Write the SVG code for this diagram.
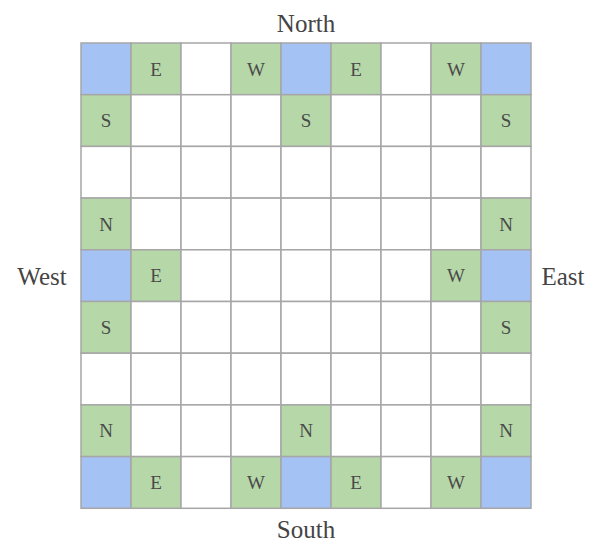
<svg xmlns="http://www.w3.org/2000/svg" width="606" height="556" viewBox="0 0 606 556">
<style>
.c{stroke:#a6a6a6;stroke-width:1.5;fill:#fff}
.b{fill:#a4c2f4}
.g{fill:#b6d7a8}
.t{font-family:"Liberation Serif",serif;font-size:19px;fill:#4a4a4a;text-anchor:middle;dominant-baseline:central}
.L{font-family:"Liberation Serif",serif;font-size:25px;fill:#444;text-anchor:middle;dominant-baseline:central}
</style>
<rect width="606" height="556" fill="#fff"/>
<g id="grid">
<g id="r0">
<rect class="c b" x="81" y="43" width="50" height="51.7"/>
<rect class="c g" x="131" y="43" width="50" height="51.7"/><text class="t" x="156" y="69">E</text>
<rect class="c" x="181" y="43" width="50" height="51.7"/>
<rect class="c g" x="231" y="43" width="50" height="51.7"/><text class="t" x="256" y="69">W</text>
<rect class="c b" x="281" y="43" width="50" height="51.7"/>
<rect class="c g" x="331" y="43" width="50" height="51.7"/><text class="t" x="356" y="69">E</text>
<rect class="c" x="381" y="43" width="50" height="51.7"/>
<rect class="c g" x="431" y="43" width="50" height="51.7"/><text class="t" x="456" y="69">W</text>
<rect class="c b" x="481" y="43" width="50" height="51.7"/>
</g>
<g id="r1">
<rect class="c g" x="81" y="94.7" width="50" height="51.7"/><text class="t" x="106" y="120.5">S</text>
<rect class="c" x="131" y="94.7" width="50" height="51.7"/>
<rect class="c" x="181" y="94.7" width="50" height="51.7"/>
<rect class="c" x="231" y="94.7" width="50" height="51.7"/>
<rect class="c g" x="281" y="94.7" width="50" height="51.7"/><text class="t" x="306" y="120.5">S</text>
<rect class="c" x="331" y="94.7" width="50" height="51.7"/>
<rect class="c" x="381" y="94.7" width="50" height="51.7"/>
<rect class="c" x="431" y="94.7" width="50" height="51.7"/>
<rect class="c g" x="481" y="94.7" width="50" height="51.7"/><text class="t" x="506" y="120.5">S</text>
</g>
<g id="r2">
<rect class="c" x="81" y="146.4" width="50" height="51.7"/>
<rect class="c" x="131" y="146.4" width="50" height="51.7"/>
<rect class="c" x="181" y="146.4" width="50" height="51.7"/>
<rect class="c" x="231" y="146.4" width="50" height="51.7"/>
<rect class="c" x="281" y="146.4" width="50" height="51.7"/>
<rect class="c" x="331" y="146.4" width="50" height="51.7"/>
<rect class="c" x="381" y="146.4" width="50" height="51.7"/>
<rect class="c" x="431" y="146.4" width="50" height="51.7"/>
<rect class="c" x="481" y="146.4" width="50" height="51.7"/>
</g>
<g id="r3">
<rect class="c g" x="81" y="198.1" width="50" height="51.7"/><text class="t" x="106" y="224">N</text>
<rect class="c" x="131" y="198.1" width="50" height="51.7"/>
<rect class="c" x="181" y="198.1" width="50" height="51.7"/>
<rect class="c" x="231" y="198.1" width="50" height="51.7"/>
<rect class="c" x="281" y="198.1" width="50" height="51.7"/>
<rect class="c" x="331" y="198.1" width="50" height="51.7"/>
<rect class="c" x="381" y="198.1" width="50" height="51.7"/>
<rect class="c" x="431" y="198.1" width="50" height="51.7"/>
<rect class="c g" x="481" y="198.1" width="50" height="51.7"/><text class="t" x="506" y="224">N</text>
</g>
<g id="r4">
<rect class="c b" x="81" y="249.8" width="50" height="51.7"/>
<rect class="c g" x="131" y="249.8" width="50" height="51.7"/><text class="t" x="156" y="275.6">E</text>
<rect class="c" x="181" y="249.8" width="50" height="51.7"/>
<rect class="c" x="231" y="249.8" width="50" height="51.7"/>
<rect class="c" x="281" y="249.8" width="50" height="51.7"/>
<rect class="c" x="331" y="249.8" width="50" height="51.7"/>
<rect class="c" x="381" y="249.8" width="50" height="51.7"/>
<rect class="c g" x="431" y="249.8" width="50" height="51.7"/><text class="t" x="456" y="275.6">W</text>
<rect class="c b" x="481" y="249.8" width="50" height="51.7"/>
</g>
<g id="r5">
<rect class="c g" x="81" y="301.5" width="50" height="51.7"/><text class="t" x="106" y="327.3">S</text>
<rect class="c" x="131" y="301.5" width="50" height="51.7"/>
<rect class="c" x="181" y="301.5" width="50" height="51.7"/>
<rect class="c" x="231" y="301.5" width="50" height="51.7"/>
<rect class="c" x="281" y="301.5" width="50" height="51.7"/>
<rect class="c" x="331" y="301.5" width="50" height="51.7"/>
<rect class="c" x="381" y="301.5" width="50" height="51.7"/>
<rect class="c" x="431" y="301.5" width="50" height="51.7"/>
<rect class="c g" x="481" y="301.5" width="50" height="51.7"/><text class="t" x="506" y="327.3">S</text>
</g>
<g id="r6">
<rect class="c" x="81" y="353.2" width="50" height="51.7"/>
<rect class="c" x="131" y="353.2" width="50" height="51.7"/>
<rect class="c" x="181" y="353.2" width="50" height="51.7"/>
<rect class="c" x="231" y="353.2" width="50" height="51.7"/>
<rect class="c" x="281" y="353.2" width="50" height="51.7"/>
<rect class="c" x="331" y="353.2" width="50" height="51.7"/>
<rect class="c" x="381" y="353.2" width="50" height="51.7"/>
<rect class="c" x="431" y="353.2" width="50" height="51.7"/>
<rect class="c" x="481" y="353.2" width="50" height="51.7"/>
</g>
<g id="r7">
<rect class="c g" x="81" y="404.9" width="50" height="51.7"/><text class="t" x="106" y="430.7">N</text>
<rect class="c" x="131" y="404.9" width="50" height="51.7"/>
<rect class="c" x="181" y="404.9" width="50" height="51.7"/>
<rect class="c" x="231" y="404.9" width="50" height="51.7"/>
<rect class="c g" x="281" y="404.9" width="50" height="51.7"/><text class="t" x="306" y="430.7">N</text>
<rect class="c" x="331" y="404.9" width="50" height="51.7"/>
<rect class="c" x="381" y="404.9" width="50" height="51.7"/>
<rect class="c" x="431" y="404.9" width="50" height="51.7"/>
<rect class="c g" x="481" y="404.9" width="50" height="51.7"/><text class="t" x="506" y="430.7">N</text>
</g>
<g id="r8">
<rect class="c b" x="81" y="456.6" width="50" height="51.7"/>
<rect class="c g" x="131" y="456.6" width="50" height="51.7"/><text class="t" x="156" y="482.4">E</text>
<rect class="c" x="181" y="456.6" width="50" height="51.7"/>
<rect class="c g" x="231" y="456.6" width="50" height="51.7"/><text class="t" x="256" y="482.4">W</text>
<rect class="c b" x="281" y="456.6" width="50" height="51.7"/>
<rect class="c g" x="331" y="456.6" width="50" height="51.7"/><text class="t" x="356" y="482.4">E</text>
<rect class="c" x="381" y="456.6" width="50" height="51.7"/>
<rect class="c g" x="431" y="456.6" width="50" height="51.7"/><text class="t" x="456" y="482.4">W</text>
<rect class="c b" x="481" y="456.6" width="50" height="51.7"/>
</g>
</g>
<g id="labels">
<text class="L" x="306" y="23">North</text>
<text class="L" x="306" y="529">South</text>
<text class="L" x="42" y="276">West</text>
<text class="L" x="563" y="276">East</text>
</g>
</svg>
